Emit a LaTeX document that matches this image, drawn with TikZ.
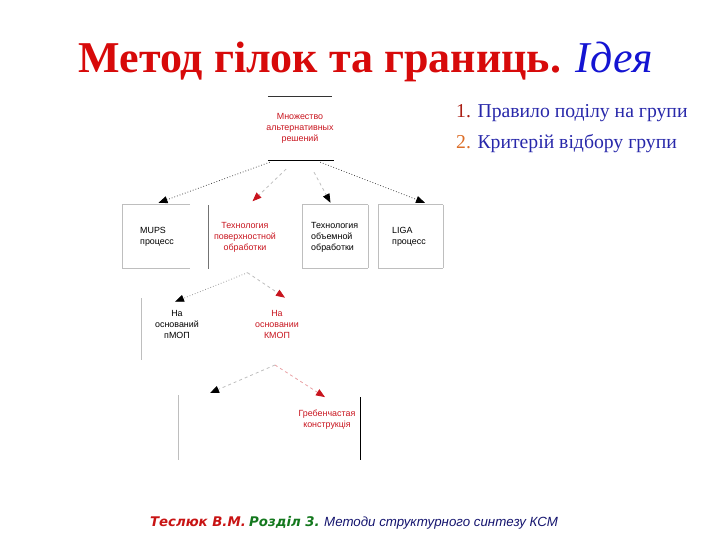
\documentclass[tikz,border=0pt]{standalone}
\usepackage{fontspec}
\setmainfont{Liberation Serif}
\setsansfont{Liberation Sans}
\newfontfamily\dejavu{DejaVu Sans}
\usetikzlibrary{arrows.meta}
\definecolor{titlered}{RGB}{215,10,10}
\definecolor{titleblue}{RGB}{20,20,210}
\definecolor{listblue}{RGB}{40,40,170}
\definecolor{num1}{RGB}{170,30,20}
\definecolor{num2}{RGB}{220,110,40}
\definecolor{diagred}{RGB}{200,20,30}
\definecolor{faint}{RGB}{190,190,190}
\definecolor{footred}{RGB}{200,20,20}
\definecolor{footgreen}{RGB}{20,120,30}
\definecolor{footblue}{RGB}{20,20,110}
\tikzset{
  dtext/.style={font=\sffamily\fontsize{8.9}{11}\selectfont, align=center, inner sep=1pt},
  boxshape/.style={rectangle, minimum height=63pt, inner sep=0pt},
  edgeline/.style={draw=faint, line width=0.8pt},
  conn/.style={draw=black!70, dotted, line width=0.8pt, -{Triangle[length=9pt,width=7pt]}},
  connfaint/.style={draw=faint, dashed, line width=0.8pt, -{Triangle[length=9pt,width=7pt]}},
  redhead/.style={-{Triangle[length=9pt,width=7pt,color=diagred]}},
  blackhead/.style={-{Triangle[length=9pt,width=7pt,color=black]}},
}
\begin{document}
\begin{tikzpicture}[x=1pt,y=-1pt]
\useasboundingbox (0,0) rectangle (720,540);

% title
\node (title) at (366,62) {\fontsize{44}{48}\selectfont\color{titlered}\bfseries Метод гілок та границь. \color{titleblue}\mdseries\itshape Ідея};

% list
\node[anchor=west, inner sep=0pt] (l1) at (456,113) {\fontsize{19.7}{22}\selectfont{\color{num1}1.} \color{listblue}Правило поділу на групи};
\node[anchor=west, inner sep=0pt] (l2) at (456,144) {\fontsize{19.7}{22}\selectfont{\color{num2}2.} \color{listblue}Критерій відбору групи};

% root
\node[boxshape, minimum width=64pt] (root) at (300,128.5) {};
\node[dtext, text=diagred] (rt) at (root) {Множество\\альтернативных\\решений};
\draw[black!80, line width=0.8pt] (root.north west) -- (root.north east);
\draw[black, line width=0.9pt] (root.south west) -- ([xshift=2pt]root.south east);

% level 2 boxes
\node[boxshape, minimum width=67pt] (b1) at (156.5,236.5) {};
\node[boxshape, minimum width=71pt] (b2) at (244.5,237) {};
\node[boxshape, minimum width=65pt] (b3) at (335.5,236.5) {};
\node[boxshape, minimum width=64pt] (b4) at (411,236.5) {};
\draw[edgeline] (b1.north east) -- (b1.north west) -- (b1.south west) -- (b1.south east);
\draw[edgeline, draw=black!55] (b2.north west) -- (b2.south west);
\draw[edgeline] (b3.north east) -- (b3.north west) -- (b3.south west) -- (b3.south east);
\draw[edgeline] (b3.north east) -- (b3.south east);
\draw[edgeline] (b4.north east) -- (b4.north west) -- (b4.south west) -- (b4.south east);
\draw[edgeline] (b4.north east) -- (b4.south east);

\node[dtext, align=left, anchor=west] (t1) at (139,237) {MUPS\\процесс};
\node[dtext, text=diagred] (t2) at (245,237) {Технология\\поверхностной\\обработки};
\node[dtext, align=left, anchor=west] (t3) at (310,237) {Технология\\объемной\\обработки};
\node[dtext, align=left, anchor=west] (t4) at (391,237) {LIGA\\процесс};

% connectors level 1 -> 2
\draw[conn, blackhead] ([xshift=2pt,yshift=-2pt]root.south west) -- ([xshift=2pt,yshift=2pt]b1.north);
\draw[connfaint, redhead] ([xshift=-14pt,yshift=-9pt]root.south) -- ([xshift=8pt,yshift=4pt]b2.north);
\draw[connfaint, blackhead] ([xshift=14pt,yshift=-12pt]root.south) -- ([xshift=-5pt,yshift=2pt]b3.north);
\draw[conn, blackhead] ([xshift=-12pt,yshift=-2pt]root.south east) -- ([xshift=14pt,yshift=2pt]b4.north);

% level 3
\node[dtext] (n1) at (177,324) {На\\оснований\\пМОП};
\node[dtext, text=diagred] (n2) at (277,324) {На\\основании\\КМОП};
\coordinate (c1a) at (141,298);
\coordinate (c1b) at (141,360);
\draw[edgeline] (c1a) -- (c1b);
\draw[conn, draw=black!40, blackhead] ([xshift=3pt,yshift=-4pt]b2.south) -- ([xshift=-2pt,yshift=7pt]n1.north);
\draw[connfaint, redhead] ([xshift=3pt,yshift=-4pt]b2.south) -- ([xshift=8pt,yshift=11pt]n2.north);

% level 4
\coordinate (s4) at (275,365);
\coordinate (e1) at (210,393);
\node[dtext, text=diagred] (g) at (327,420) {Гребенчастая\\конструкція};
\draw[edgeline] (178,395) -- (178,460);
\draw[black, line width=0.9pt] (360,397) -- (360,460);
\draw[connfaint, blackhead] (s4) -- (e1);
\draw[connfaint, draw=diagred!40, redhead] (s4) -- ([xshift=-2pt,yshift=12pt]g.north);

% footer
\node (foot) at (354,523) {\fontsize{13.3}{15}\selectfont{\dejavu\bfseries\itshape\color{footred}Теслюк В.М.} {\dejavu\bfseries\itshape\color{footgreen}Розділ 3.} {\sffamily\itshape\color{footblue}Методи структурного синтезу КСМ}};
\end{tikzpicture}
\end{document}
